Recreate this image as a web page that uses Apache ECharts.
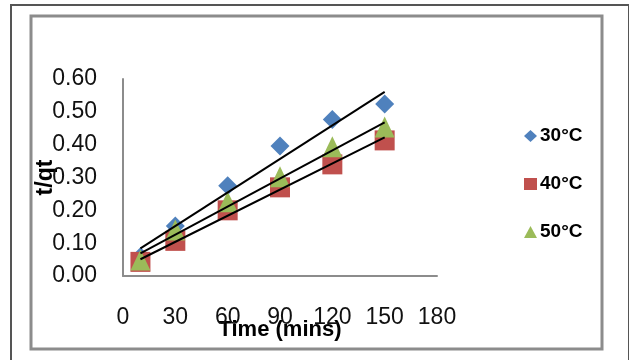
<!DOCTYPE html>
<html>
<head>
<meta charset="utf-8">
<script src="https://cdn.jsdelivr.net/npm/echarts@6/dist/echarts.min.js"></script>
<style>
html,body{margin:0;padding:0;background:#fff;}
#chart{width:629px;height:360px;}
</style>
</head>
<body>
<div id="chart"></div>
<script>
// Data
var times = [10, 30, 60, 90, 120, 150];
var s30 = [0.059, 0.152, 0.275, 0.396, 0.477, 0.524];
var s40 = [0.043, 0.107, 0.200, 0.270, 0.340, 0.413];
var s50 = [0.049, 0.140, 0.226, 0.302, 0.394, 0.454];
// Linear trendline endpoints (x = first and last time)
var trendX = [10, 150];
var trend30 = [0.084, 0.561];
var trend40 = [0.051, 0.422];
var trend50 = [0.069, 0.468];
var seriesNames = ['30°C', '40°C', '50°C'];
var xTicks = [0, 30, 60, 90, 120, 150, 180];
var yTicks = [0, 0.1, 0.2, 0.3, 0.4, 0.5, 0.6];

function pairs(xs, ys) { return xs.map(function (x, i) { return [x, ys[i]]; }); }

var FONT = "'Liberation Sans', Arial, sans-serif";
var colors = ['#4F81BD', '#C0504D', '#9BBB59'];

var chart = echarts.init(document.getElementById('chart'), null, {renderer: 'canvas'});
var trendStyle = {color: '#000', width: 2};
chart.setOption({
  animation: false,
  graphic: [
    {type: 'rect', shape: {x: 11, y: 5, width: 618, height: 362}, style: {fill: 'none', stroke: '#555', lineWidth: 2}, silent: true},
    {type: 'rect', shape: {x: 31, y: 16, width: 571, height: 333}, style: {fill: 'none', stroke: '#8c8c8c', lineWidth: 3}, silent: true}
  ],
  grid: {left: 123, right: 192, top: 79, bottom: 84, containLabel: false},
  legend: {
    orient: 'vertical',
    left: 519,
    top: 120,
    itemWidth: 13,
    itemHeight: 12,
    itemGap: 26,
    data: [
      {name: seriesNames[0], icon: 'diamond'},
      {name: seriesNames[1], icon: 'rect'},
      {name: seriesNames[2], icon: 'triangle'}
    ],
    textStyle: {fontFamily: FONT, fontSize: 19, fontWeight: 'bold', color: '#000', lineHeight: 22, padding: [0, 0, 0, -2]}
  },
  xAxis: {
    type: 'value',
    min: xTicks[0],
    max: xTicks[xTicks.length - 1],
    interval: 30,
    name: 'Time (mins)',
    nameLocation: 'middle',
    nameGap: 43,
    nameMoveOverlap: false,
    nameTextStyle: {fontFamily: FONT, fontSize: 22, fontWeight: 'bold', color: '#000'},
    axisLine: {show: true, lineStyle: {color: '#8c8c8c', width: 2}},
    axisTick: {show: false},
    splitLine: {show: false},
    axisLabel: {fontFamily: FONT, fontSize: 23, color: '#111', margin: 30}
  },
  yAxis: {
    type: 'value',
    min: yTicks[0],
    max: yTicks[yTicks.length - 1],
    interval: 0.1,
    name: 't/qt',
    nameLocation: 'middle',
    nameGap: 66,
    nameMoveOverlap: false,
    nameTextStyle: {fontFamily: FONT, fontSize: 23, fontWeight: 'bold', color: '#000'},
    axisLine: {show: true, lineStyle: {color: '#8c8c8c', width: 2}},
    axisTick: {show: false},
    splitLine: {show: false},
    axisLabel: {fontFamily: FONT, fontSize: 23, color: '#111', margin: 26,
      formatter: function (v) { return v.toFixed(2); }}
  },
  series: [
    {name: seriesNames[0], type: 'scatter', symbol: 'diamond', symbolSize: [19, 19], data: pairs(times, s30), itemStyle: {color: colors[0], opacity: 1}, z: 2},
    {name: seriesNames[1], type: 'scatter', symbol: 'rect', symbolSize: [20, 20], data: pairs(times, s40), itemStyle: {color: colors[1], opacity: 1}, z: 3},
    {name: seriesNames[2], type: 'scatter', symbol: 'triangle', symbolSize: [20, 21], data: pairs(times, s50), itemStyle: {color: colors[2], opacity: 1}, z: 4},
    {name: 'trend30', type: 'line', data: pairs(trendX, trend30), showSymbol: false, symbol: 'none', lineStyle: trendStyle, z: 10, silent: true},
    {name: 'trend40', type: 'line', data: pairs(trendX, trend40), showSymbol: false, symbol: 'none', lineStyle: trendStyle, z: 10, silent: true},
    {name: 'trend50', type: 'line', data: pairs(trendX, trend50), showSymbol: false, symbol: 'none', lineStyle: trendStyle, z: 10, silent: true}
  ]
});
</script>
</body>
</html>
